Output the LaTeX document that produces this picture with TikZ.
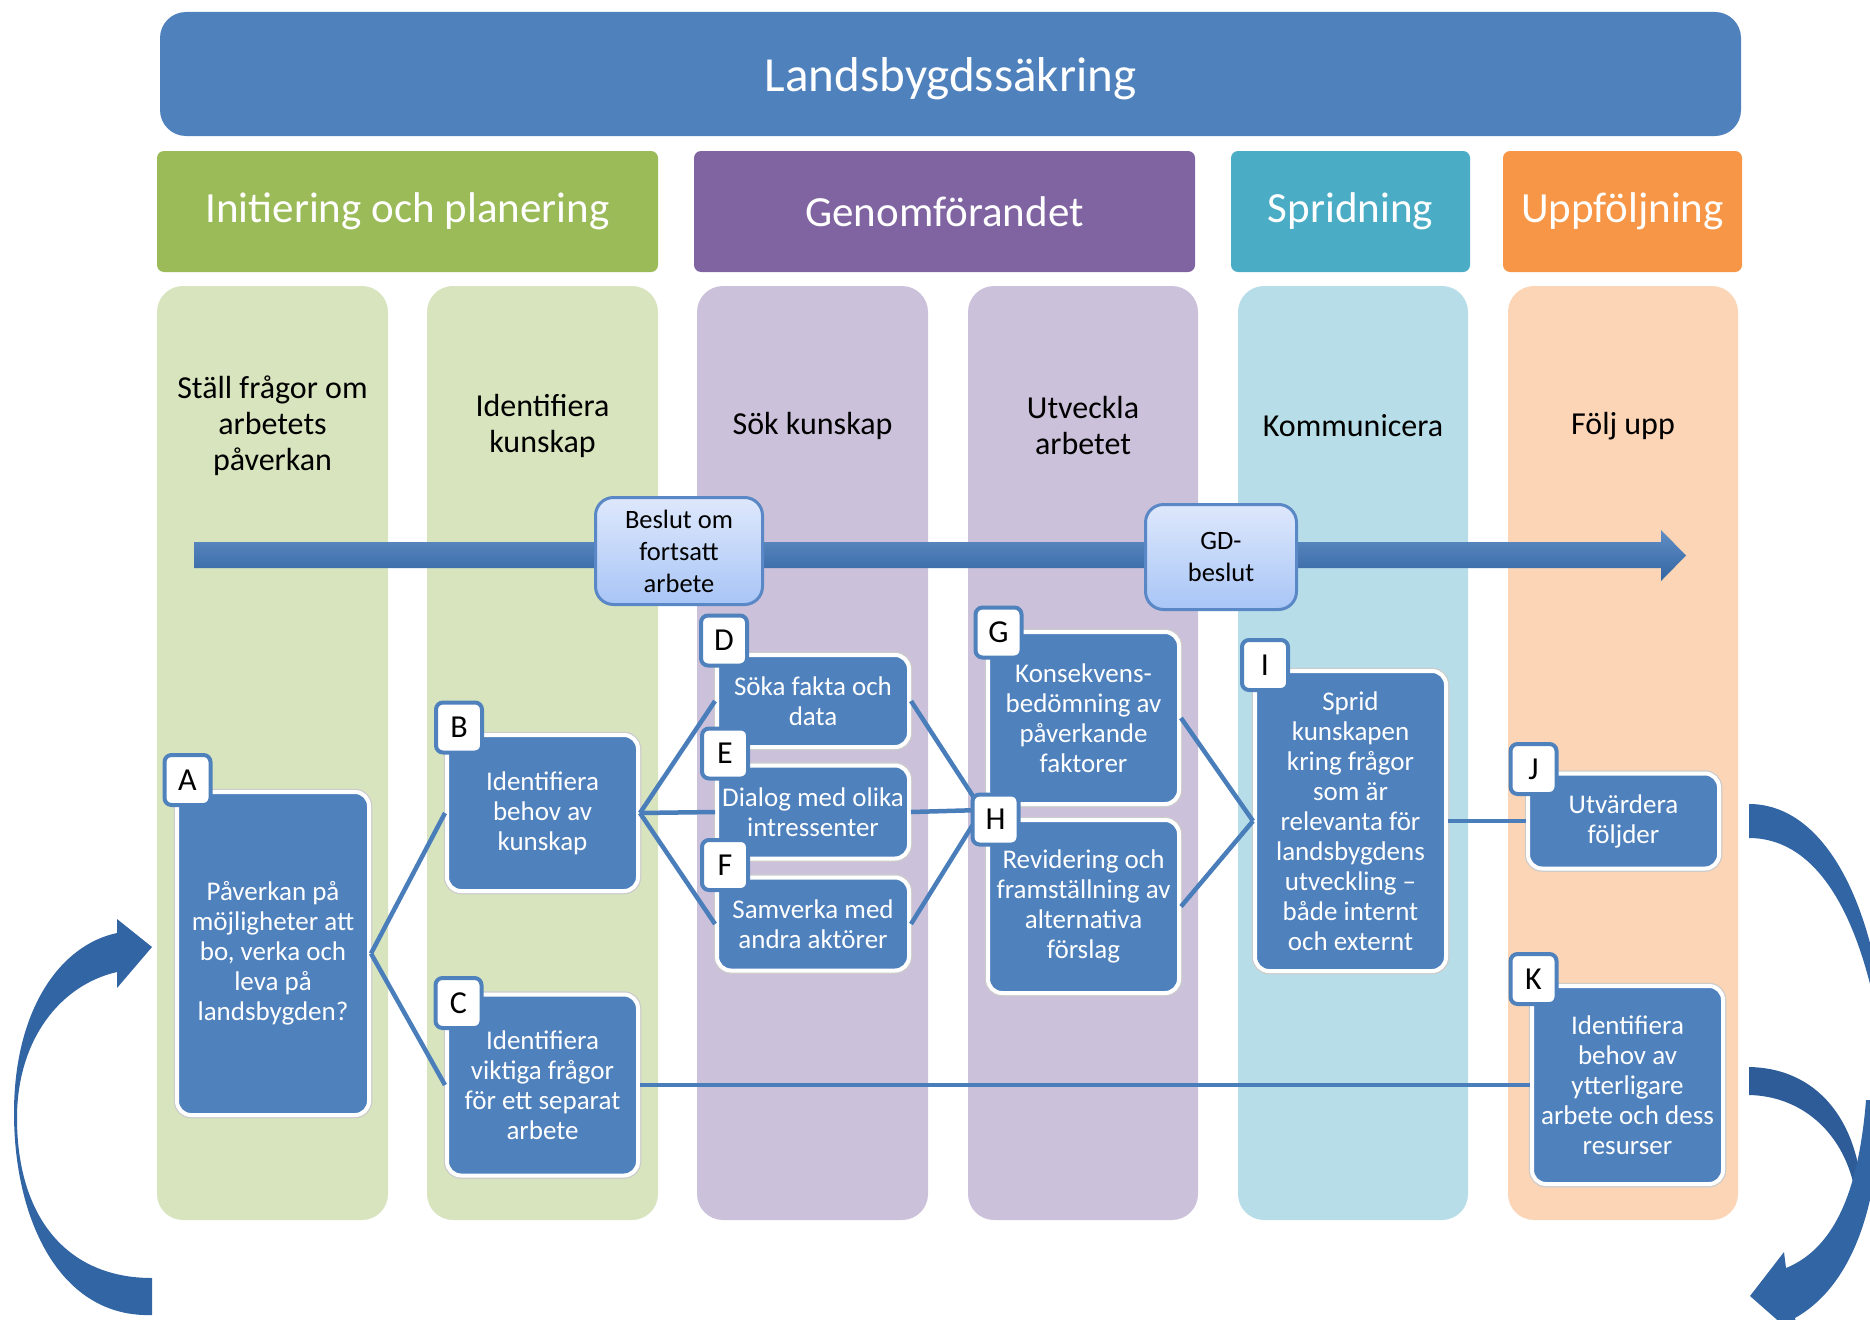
\documentclass[tikz,border=0pt]{standalone}
\usepackage{fontspec}
\setmainfont{Carlito}
\usepackage{tikz}
\usetikzlibrary{calc}
\definecolor{cardblue}{HTML}{4F81BD}
\definecolor{linkblue}{HTML}{4A7EBB}
\definecolor{arcblue}{HTML}{3265A3}
\definecolor{arcdark}{HTML}{2D5C98}
\definecolor{gatetop}{HTML}{DEE8FC}
\definecolor{gatebot}{HTML}{A8C5F6}
\definecolor{gateline}{HTML}{5A87C5}
\definecolor{laneGreen}{HTML}{D7E4BD}
\definecolor{lanePurple}{HTML}{CCC1DA}
\definecolor{laneTeal}{HTML}{B7DEE8}
\definecolor{laneOrange}{HTML}{FBD5B5}
\definecolor{headGreen}{HTML}{9BBB59}
\definecolor{headPurple}{HTML}{8064A2}
\definecolor{headTeal}{HTML}{4BACC6}
\definecolor{headOrange}{HTML}{F79646}
\tikzset{
  lane/.style={fill=#1, rounded corners=26pt},
  phase/.style={fill=#1, rounded corners=7pt, text=white, inner sep=0pt,
    font=\fontsize{43pt}{50pt}\selectfont},
  lanehead/.style={align=center, text=black, font=\fontsize{32pt}{36pt}\selectfont},
  card/.style={fill=cardblue, draw=white, line width=4pt, rounded corners=14pt,
    text=white, align=center, inner sep=0pt, font=\fontsize{27pt}{30pt}\selectfont,
    preaction={draw=black!20, line width=6.5pt}},
  cardtab/.style={fill=white, draw=cardblue, line width=4pt, rounded corners=7pt,
    minimum width=46pt, minimum height=50pt, inner sep=0pt,
    font=\fontsize{32pt}{32pt}\selectfont},
  gate/.style={top color=gatetop, bottom color=gatebot, draw=gateline, line width=3pt,
    rounded corners=18pt, align=center, inner sep=0pt,
    font=\fontsize{26.5pt}{32pt}\selectfont},
  link/.style={draw=linkblue, line width=4.5pt}
}
\def\lettertab(#1,#2)#3{\node[cardtab] (tab#3) at (#1,#2) {#3};}

\begin{document}
\begin{tikzpicture}[x=1pt,y=-1pt]
			%%%%% START %%%%%
			\useasboundingbox (0,0) rectangle (1870,1319);
			\clip (0,0) rectangle (1870,1319);
			
			\fill[lane=laneGreen] (157,286) rectangle (388,1220);
			\fill[lane=laneGreen] (427,286) rectangle (658,1220);
			\fill[lane=lanePurple] (697,286) rectangle (928,1220);
			\fill[lane=lanePurple] (968,286) rectangle (1198,1220);
			\fill[lane=laneTeal] (1238,286) rectangle (1468,1220);
			\fill[lane=laneOrange] (1508,286) rectangle (1738,1220);
			
			\node[fill=cardblue, rounded corners=26pt, text=white, inner sep=0pt, text depth=0pt,
			  minimum width=1581pt, minimum height=124pt, font=\fontsize{49pt}{55pt}\selectfont]
			  (title) at (950.5,74) {Landsbygdssäkring};
			
			\node[phase=headGreen, minimum width=501pt, minimum height=121pt] (phInit) at (407.5,211.5) {Initiering och planering};
			\node[phase=headPurple, minimum width=501pt, minimum height=121pt] (phGenom) at (944.5,211.5) {Genomförandet};
			\node[phase=headTeal, minimum width=239pt, minimum height=121pt] (phSprid) at (1350.5,211.5) {Spridning};
			\node[phase=headOrange, minimum width=239pt, minimum height=121pt] (phUpp) at (1622.5,211.5) {Uppföljning};
			
			\node[lanehead] (lhStall) at (272.5,426) {Ställ frågor om\\arbetets\\påverkan};
			\node[lanehead] (lhIdent) at (542.5,426) {Identifiera\\kunskap};
			\node[lanehead] (lhSok) at (812.5,426) {Sök kunskap};
			\node[lanehead] (lhUtv) at (1083,426) {Utveckla\\arbetet};
			\node[lanehead] (lhKomm) at (1353,426) {Kommunicera};
			\node[lanehead] (lhFolj) at (1623,426) {Följ upp};
			
			% tidslinje
			\shade[top color=cardblue!90!white, bottom color=arcblue] (194,542) -- (1661,542) -- (1661,530) -- (1686,555.5) -- (1661,581) -- (1661,568) -- (194,568) -- cycle;
			\node[gate, minimum width=167pt, minimum height=107pt] (gateBeslut) at (679,551) {Beslut om\\fortsatt\\arbete};
			\node[gate, minimum width=151pt, minimum height=105pt] (gateGD) at (1221,557) {GD-\\beslut};
			
			\node[card, minimum width=192pt, minimum height=323pt] (cardA) at (273,953.5) {Påverkan på\\möjligheter att\\bo, verka och\\leva på\\landsbygden?};
			\node[card, minimum width=191pt, minimum height=156pt] (cardB) at (542.5,813) {Identifiera\\behov av\\kunskap};
			\node[card, minimum width=191pt, minimum height=181pt] (cardC) at (542.5,1085) {Identifiera\\viktiga frågor\\för ett separat\\arbete};
			\node[card, minimum width=192pt, minimum height=92pt] (cardD) at (813,701) {Söka fakta och\\data};
			\node[card, minimum width=192pt, minimum height=93pt] (cardE) at (813,812) {Dialog med olika\\intressenter};
			\node[card, minimum width=192pt, minimum height=93pt] (cardF) at (813,924) {Samverka med\\andra aktörer};
			\node[card, minimum width=191pt, minimum height=172pt] (cardG) at (1083.5,718) {Konsekvens-\\bedömning av\\påverkande\\faktorer};
			\node[card, minimum width=191pt, minimum height=173pt] (cardH) at (1083.5,906.5) {Revidering och\\framställning av\\alternativa\\förslag};
			\node[card, minimum width=191pt, minimum height=300pt] (cardI) at (1350.5,821) {Sprid\\kunskapen\\kring frågor\\som är\\relevanta för\\landsbygdens\\utveckling –\\både internt\\och externt};
			\node[card, minimum width=191pt, minimum height=95pt] (cardJ) at (1623.5,821) {Utvärdera\\följder};
			\node[card, minimum width=191pt, minimum height=198pt] (cardK) at (1627.5,1085) {Identifiera\\behov av\\ytterligare\\arbete och dess\\resurser};
			
			\coordinate (hubH) at (982,810);
			\draw[link] (cardA.east) -- (cardB.west);
			\draw[link] (cardA.east) -- (cardC.west);
			\draw[link] (cardB.east) -- (cardD.west);
			\draw[link] (cardB.east) -- (cardE.west);
			\draw[link] (cardB.east) -- (cardF.west);
			\draw[link] (cardD.east) -- (hubH);
			\draw[link] (cardE.east) -- (hubH);
			\draw[link] (cardF.east) -- (hubH);
			\draw[link] (cardG.east) -- (cardI.west);
			\draw[link] (cardH.east) -- (cardI.west);
			\draw[link] (cardI.east) -- (cardJ.west);
			\draw[link] (cardC.east) -- (cardK.west);
			
			\lettertab(187.5,780){A}
			\lettertab(459,727.5){B}
			\lettertab(458.5,1003){C}
			\lettertab(724,640.5){D}
			\lettertab(725,753.5){E}
			\lettertab(725,865){F}
			\lettertab(998.5,632.5){G}
			\lettertab(995.5,819.5){H}
			\lettertab(1265,665){I}
			\lettertab(1533.5,769){J}
			\lettertab(1533.5,979){K}
			
			% pilar runt om
			\fill[arcblue] (152,1315) .. controls (60,1318) and (14,1220) .. (14,1113) .. controls (14,1010) and (60,945) .. (117,933) -- (117,919) -- (152,947) -- (117,988) -- (117,972) .. controls (60,985) and (17,1040) .. (17,1118) .. controls (17,1215) and (65,1278) .. (152,1278) -- cycle;
			\fill[arcblue] (1749,804) .. controls (1815,804) and (1862,880) .. (1880,990) -- (1878,1020) .. controls (1855,900) and (1810,838) .. (1749,838) -- cycle;
			\fill[arcdark] (1749,1067) .. controls (1810,1068) and (1850,1110) .. (1860,1175) -- (1853,1182) .. controls (1840,1130) and (1800,1096) .. (1749,1095) -- cycle;
			\fill[arcblue] (1880,1100) .. controls (1880,1220) and (1845,1290) .. (1795,1318) -- (1800,1340) -- (1750,1296) -- (1784,1252) -- (1786,1268) .. controls (1830,1250) and (1858,1200) .. (1866,1100) -- cycle;
			
			%%%%% END %%%%%
\end{tikzpicture}
\end{document}
